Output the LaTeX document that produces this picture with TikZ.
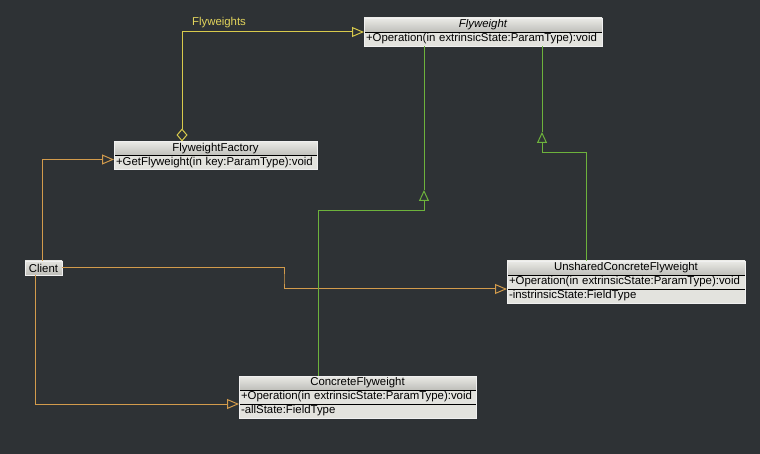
\documentclass[tikz,border=0pt]{standalone}
\usepackage{fontspec}
\setmainfont{Liberation Sans}
\usetikzlibrary{positioning,arrows.meta}

\definecolor{canvas}{HTML}{2E3235}
\definecolor{aggryellow}{HTML}{D8CA4C}
\definecolor{labelyellow}{HTML}{E2D45C}
\definecolor{assocorange}{HTML}{D29B4C}
\definecolor{gengreen}{HTML}{6DB23C}
\definecolor{titletop}{HTML}{EAEAE6}
\definecolor{titlebot}{HTML}{BFBFBA}
\definecolor{rowfill}{HTML}{E3E3DE}

\tikzset{
  classtitle/.style={draw=black, top color=titletop, bottom color=titlebot,
    minimum height=14pt, inner sep=0pt, outer sep=0pt, font=\fontsize{11.4}{13}\selectfont},
  classrow/.style={draw=black, fill=rowfill, minimum height=14pt, inner xsep=2pt,
    inner ysep=0pt, outer sep=0pt, align=left, font=\fontsize{11.4}{13}\selectfont},
  classedge/.style={draw=white!88!gray, line width=0.7pt},
  aggr/.style={color=aggryellow, line width=1pt,
    {Diamond[open,length=13pt,width=11pt]}-{Triangle[open,length=12pt,width=10pt]}},
  assoc/.style={color=assocorange, line width=1pt,
    -{Triangle[open,length=12pt,width=10pt]}},
  genline/.style={color=gengreen, line width=1pt},
  genhead/.style={genline, -{Triangle[open,length=11pt,width=10pt]}},
}

\begin{document}
\begin{tikzpicture}[x=1pt,y=-1pt]
  \fill[canvas] (0,0) rectangle (760,454);
  \useasboundingbox (0,0) rectangle (760,454);

  % Flyweight
  \node[classtitle, minimum width=238pt] (fw) at (483,25) {\itshape Flyweight};
  \node[classrow, text width=234pt, below=0pt of fw] (fwop) {+Operation(in extrinsicState:ParamType):void};
  \draw[classedge] (fw.north west) rectangle (fwop.south east);

  % FlyweightFactory
  \node[classtitle, minimum width=203pt] (ff) at (215.5,148.5) {FlyweightFactory};
  \node[classrow, text width=199pt, below=0pt of ff] (ffop) {+GetFlyweight(in key:ParamType):void};
  \draw[classedge] (ff.north west) rectangle (ffop.south east);

  % Client
  \node[classtitle, minimum width=37pt, top color=rowfill] (cl) at (43.5,268) {Client};
  \draw[classedge] (cl.north west) rectangle (cl.south east);

  % UnsharedConcreteFlyweight
  \node[classtitle, minimum width=238pt] (uc) at (626,268) {UnsharedConcreteFlyweight};
  \node[classrow, text width=234pt, below=0pt of uc] (ucop) {+Operation(in extrinsicState:ParamType):void};
  \node[classrow, text width=234pt, below=0pt of ucop] (ucst) {-instrinsicState:FieldType};
  \draw[classedge] (uc.north west) rectangle (ucst.south east);

  % ConcreteFlyweight
  \node[classtitle, minimum width=237pt] (cf) at (357.5,383) {ConcreteFlyweight};
  \node[classrow, text width=233pt, below=0pt of cf] (cfop) {+Operation(in extrinsicState:ParamType):void};
  \node[classrow, text width=233pt, below=0pt of cfop] (cfst) {-allState:FieldType};
  \draw[classedge] (cf.north west) rectangle (cfst.south east);

  % aggregation
  \draw[aggr] ([xshift=68pt]ff.north west) |- (fw.south west);
  \node[text=labelyellow, font=\fontsize{11.4}{13}\selectfont] (fwlabel) at (219,23) {Flyweights};

  % client associations
  \draw[assoc] ([xshift=17pt]cl.north west) |- ([yshift=-4pt]ff.south west);
  \coordinate (cbend) at (284,280);
  \draw[assoc] (cl.east) -| (cbend) |- (ucop.south west);
  \draw[assoc] ([xshift=10pt]cl.south west) |- (cfop.south west);

  % generalization
  \coordinate (g1) at (424,211);
  \coordinate (g1t) at (424,190);
  \draw[genhead] ([xshift=79pt]cf.north west) |- (g1) -- (g1t);
  \draw[genline] (g1t) -- (g1t |- fwop.south);
  \coordinate (g2) at (542,153);
  \coordinate (g2t) at (542,132);
  \draw[genhead] ([xshift=79pt]uc.north west) |- (g2) -- (g2t);
  \draw[genline] (g2t) -- (g2t |- fwop.south);
\end{tikzpicture}
\end{document}
